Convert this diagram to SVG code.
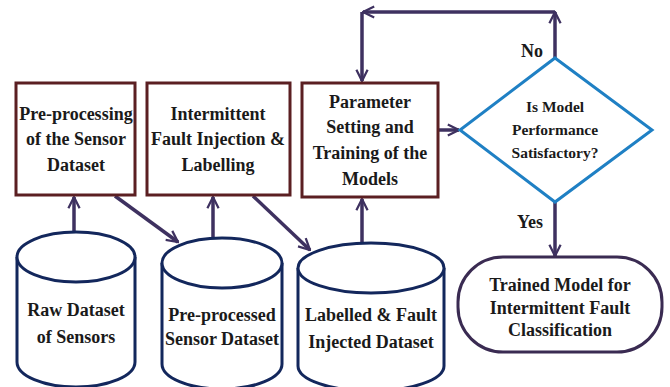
<svg xmlns="http://www.w3.org/2000/svg" width="670" height="387" viewBox="0 0 670 387">
<style>
.box{fill:#fff;stroke:#5b1f22;stroke-width:3}
.cyl{fill:#fff;stroke:#13275c;stroke-width:3}
.dia{fill:#fff;stroke:#1f80c4;stroke-width:3}
.term{fill:#fff;stroke:#3a2b52;stroke-width:3}
.arr{fill:none;stroke:#3e3160;stroke-width:3.5;marker-end:url(#ah)}
.t{font-family:'Liberation Serif','DejaVu Serif',serif;font-weight:700;fill:#1a1a1a;text-anchor:middle;font-size:18px}
.sm{font-size:15.5px}
</style>
<defs>
<marker id="ah" viewBox="0 0 10 10" refX="9" refY="5" markerWidth="4" markerHeight="4" orient="auto" markerUnits="strokeWidth">
<path d="M1,1 L9,5 L1,9" fill="none" stroke="#3e3160" stroke-width="1.6"/>
</marker>
</defs>
<rect width="670" height="387" fill="#fff"/>
<g id="connectors">
<line class="arr" x1="74" y1="232" x2="74" y2="197"/>
<line class="arr" x1="115" y1="196" x2="178" y2="242"/>
<line class="arr" x1="213" y1="238" x2="213" y2="197"/>
<line class="arr" x1="253" y1="196" x2="310" y2="250"/>
<line class="arr" x1="362" y1="243" x2="362" y2="199"/>
<line class="arr" x1="438" y1="130" x2="459" y2="130"/>
<line class="arr" x1="555" y1="58" x2="555" y2="12"/>
<line class="arr" x1="555" y1="12" x2="363" y2="12"/>
<line class="arr" x1="362" y1="12" x2="362" y2="81"/>
<line class="arr" x1="555" y1="202" x2="555" y2="256"/>
</g>
<g id="box1">
<rect class="box" x="16" y="83" width="119" height="112"/>
<text class="t" x="76" y="120">Pre-processing</text>
<text class="t" x="76" y="145">of the Sensor</text>
<text class="t" x="76" y="171">Dataset</text>
</g>
<g id="box2">
<rect class="box" x="147" y="83" width="143" height="112"/>
<text class="t" x="218" y="120">Intermittent</text>
<text class="t" x="218" y="145">Fault Injection &amp;</text>
<text class="t" x="218" y="171">Labelling</text>
</g>
<g id="box3">
<rect class="box" x="302" y="83" width="136" height="114"/>
<text class="t" x="370" y="108">Parameter</text>
<text class="t" x="370" y="133">Setting and</text>
<text class="t" x="370" y="159">Training of the</text>
<text class="t" x="370" y="185">Models</text>
</g>
<g id="decision">
<polygon class="dia" points="555,58 652,130 555,202 460,130"/>
<text class="t sm" x="555" y="112">Is Model</text>
<text class="t sm" x="555" y="135">Performance</text>
<text class="t sm" x="555" y="158">Satisfactory?</text>
</g>
<text class="t" x="532" y="57">No</text>
<text class="t" x="530" y="228">Yes</text>
<g id="terminal">
<rect class="term" x="458" y="257" width="204" height="95" rx="45" ry="45"/>
<text class="t" x="560" y="291">Trained Model for</text>
<text class="t" x="560" y="314">Intermittent Fault</text>
<text class="t" x="560" y="336">Classification</text>
</g>
<g id="cyl1">
<path class="cyl" d="M17,257 L17,362 A59,25 0 0 0 135,362 L135,257"/>
<ellipse class="cyl" cx="76" cy="257" rx="59" ry="25"/>
<text class="t" x="76" y="316">Raw Dataset</text>
<text class="t" x="76" y="343">of Sensors</text>
</g>
<g id="cyl2">
<path class="cyl" d="M162,263 L162,364 A60,25 0 0 0 282,364 L282,263"/>
<ellipse class="cyl" cx="222" cy="263" rx="60" ry="25"/>
<text class="t" x="222" y="321">Pre-processed</text>
<text class="t" x="222" y="345">Sensor Dataset</text>
</g>
<g id="cyl3">
<path class="cyl" d="M298,268 L298,366 A73,25 0 0 0 444,366 L444,268"/>
<ellipse class="cyl" cx="371" cy="268" rx="73" ry="25"/>
<text class="t" x="371" y="321">Labelled &amp; Fault</text>
<text class="t" x="371" y="348">Injected Dataset</text>
</g>
</svg>
